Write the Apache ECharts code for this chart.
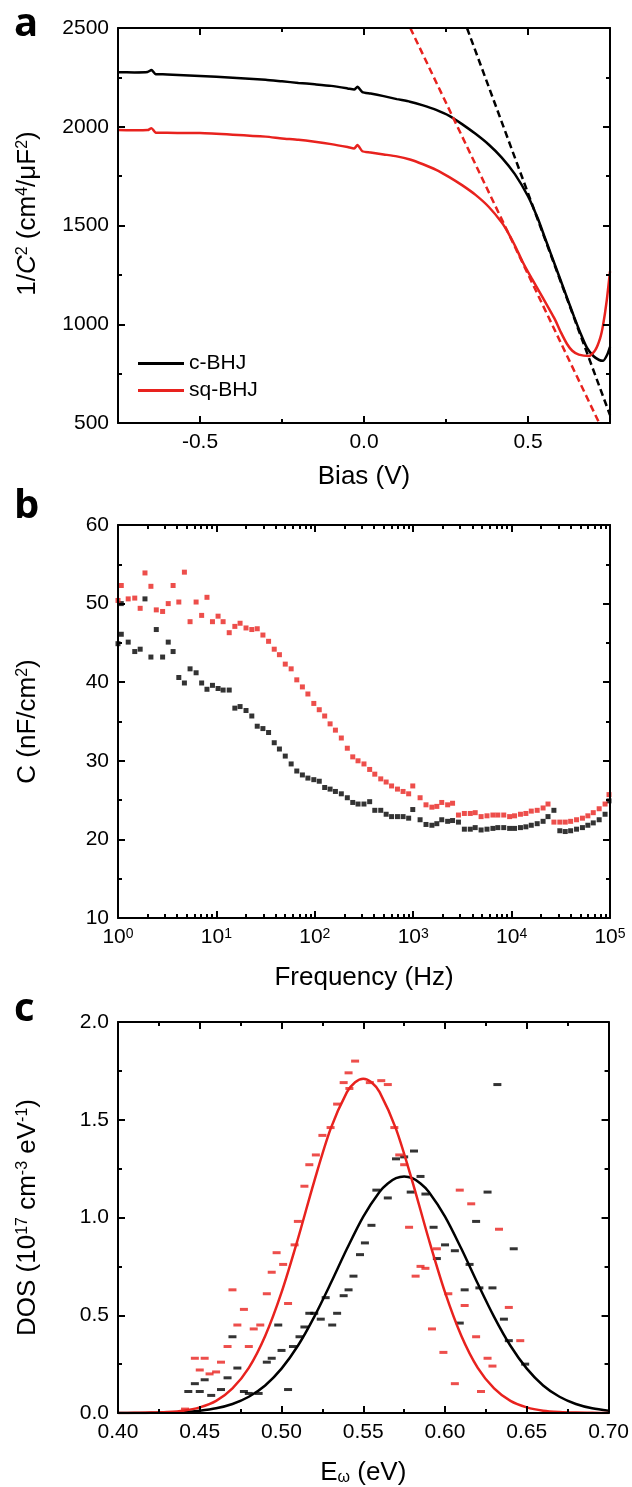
<!DOCTYPE html>
<html>
<head>
<meta charset="utf-8">
<script src="https://cdn.jsdelivr.net/npm/echarts@6/dist/echarts.min.js"></script>
<style>
html, body {margin: 0; padding: 0; background: #fff;}
#main {width: 632px; height: 1487px;}
</style>
</head>
<body>
<div id="main"></div>
<script>
// ---- panel a : Mott-Schottky 1/C^2 vs bias ----
var biasC = [-0.75, -0.70, -0.66, -0.648, -0.635, -0.60, -0.50, -0.40, -0.30, -0.25, -0.20, -0.15, -0.10, -0.05, -0.03, -0.02, -0.005,
    0.02, 0.06, 0.10, 0.14, 0.18, 0.22, 0.26, 0.30, 0.34, 0.38, 0.42, 0.46, 0.50, 0.53, 0.55, 0.57, 0.60, 0.62, 0.64, 0.66, 0.68,
    0.70, 0.717, 0.729, 0.741, 0.75];
var invC2C = [2276, 2275, 2277, 2287, 2266, 2265, 2257, 2248, 2238, 2230, 2222, 2215, 2207, 2194, 2188, 2202, 2175,
    2168, 2155, 2140, 2127, 2108, 2085, 2055, 2012, 1964, 1910, 1844, 1760, 1648, 1535, 1445, 1355, 1220, 1130, 1040, 955, 880,
    838, 819, 815, 844, 886];
var biasSq = [-0.75, -0.70, -0.66, -0.648, -0.635, -0.60, -0.50, -0.40, -0.30, -0.25, -0.20, -0.15, -0.10, -0.05, -0.03, -0.02, -0.005,
    0.02, 0.06, 0.10, 0.14, 0.18, 0.22, 0.26, 0.30, 0.34, 0.38, 0.42, 0.44, 0.46, 0.483, 0.51, 0.545, 0.582, 0.60, 0.619, 0.635,
    0.655, 0.686, 0.705, 0.72, 0.729, 0.74, 0.75];
var invC2Sq = [1983, 1982, 1983, 1993, 1970, 1969, 1968, 1960, 1950, 1941, 1934, 1924, 1912, 1897, 1890, 1907, 1876,
    1870, 1860, 1850, 1834, 1810, 1782, 1745, 1703, 1655, 1595, 1515, 1462, 1399, 1318, 1236, 1135, 1025, 960, 900, 866,
    846, 839, 869, 930, 997, 1120, 1268];
// linear fits (dashed)
var fitBiasC = [0.314, 0.75];
var fitC = [2500, 540];
var fitBiasSq = [0.141, 0.717];
var fitSq = [2500, 500];

// ---- panel b : C vs frequency ----
var freqHz = [1, 1.08, 1.27, 1.48, 1.68, 1.88, 2.16, 2.45, 2.84, 3.24,
    3.63, 4.15, 4.73, 5.40, 6.22, 7.08, 8.02, 9.12, 10.4, 11.7,
    13.5, 15.4, 17.4, 20.0, 22.9, 26.0, 29.7, 33.9, 38.7, 43.7,
    50.1, 57.5, 65.6, 74.8, 85.1, 97.7, 111, 126, 143, 162,
    186, 214, 243, 275, 316, 361, 407, 468, 531, 603,
    692, 789, 899, 990, 1175, 1349, 1549, 1738, 1950, 2239,
    2512, 2884, 3311, 3802, 4266, 4898, 5623, 6457, 7244, 8318,
    9550, 10715, 12303, 13964, 15849, 18197, 20893, 23442, 26915, 30903,
    35075, 39811, 45709, 52481, 59566, 67608, 77625, 89125, 97724];
var capSq = [50.4, 52.3, 50.6, 50.7, 49.4, 53.9, 52.2, 49.2, 49.0, 50.0,
    52.3, 50.2, 54.0, 47.7, 50.2, 48.5, 50.8, 47.7, 48.4, 47.7,
    46.3, 47.1, 47.5, 46.9, 46.7, 46.8, 46.0, 45.2, 44.2, 43.5,
    42.3, 41.7, 40.3, 39.4, 38.5, 37.3, 36.5, 35.7, 34.7, 33.9,
    32.9, 31.6, 30.5, 30.0, 29.6, 28.9, 28.3, 27.7, 27.3, 26.8,
    26.4, 26.1, 25.8, 26.8, 25.3, 24.4, 24.1, 24.2, 24.7, 24.4,
    24.6, 23.1, 23.3, 23.3, 23.4, 22.9, 23.0, 23.1, 23.1, 23.1,
    22.9, 23.0, 23.2, 23.3, 23.6, 23.7, 24.0, 24.5, 22.2, 22.2,
    22.2, 22.3, 22.5, 22.7, 23.0, 23.4, 23.9, 24.5, 25.7];
var capC = [44.9, 46.1, 45.1, 43.9, 44.2, 50.6, 43.2, 46.7, 43.2, 45.1,
    43.9, 40.6, 39.9, 41.7, 41.2, 39.9, 39.1, 39.6, 39.2, 39.0,
    39.0, 36.7, 36.9, 36.4, 35.7, 34.4, 34.1, 33.6, 32.3, 31.5,
    30.6, 29.6, 28.7, 28.2, 27.8, 27.6, 27.4, 26.6, 26.4, 26.1,
    25.8, 25.3, 24.7, 24.5, 24.5, 24.8, 23.7, 23.7, 23.2, 22.9,
    22.9, 22.9, 22.7, 23.8, 22.5, 21.9, 21.8, 22.0, 22.5, 22.3,
    22.4, 22.2, 21.3, 21.3, 21.5, 21.2, 21.3, 21.4, 21.5, 21.5,
    21.4, 21.4, 21.5, 21.6, 21.8, 22.0, 22.3, 22.9, 23.7, 21.1,
    21.0, 21.1, 21.3, 21.5, 21.8, 22.1, 22.5, 23.2, 24.9];
var capCExtraHz = [1.08];
var capCExtra = [50.0];

// ---- panel c : DOS ----
var eFitSq = [0.40, 0.41, 0.42, 0.43, 0.44, 0.45, 0.46, 0.47, 0.48, 0.49, 0.50, 0.51, 0.52, 0.53, 0.54, 0.545, 0.55,
    0.555, 0.56, 0.57, 0.58, 0.59, 0.60, 0.61, 0.62, 0.63, 0.64, 0.65, 0.66, 0.67, 0.68, 0.69, 0.70];
var dosFitSq = [0.000, 0.001, 0.002, 0.005, 0.012, 0.029, 0.062, 0.126, 0.231, 0.394, 0.617, 0.890, 1.185, 1.453, 1.641, 1.692, 1.710,
    1.692, 1.641, 1.453, 1.185, 0.890, 0.617, 0.394, 0.231, 0.126, 0.062, 0.029, 0.012, 0.005, 0.002, 0.001, 0.000];
var eFitC = [0.40, 0.41, 0.42, 0.43, 0.44, 0.45, 0.46, 0.47, 0.48, 0.49, 0.50, 0.51, 0.52, 0.53, 0.54, 0.55, 0.56,
    0.565, 0.57, 0.575, 0.58, 0.585, 0.59, 0.60, 0.61, 0.62, 0.63, 0.64, 0.65, 0.66, 0.67, 0.68, 0.69, 0.70];
var dosFitC = [0.000, 0.000, 0.001, 0.002, 0.005, 0.012, 0.024, 0.046, 0.083, 0.141, 0.227, 0.344, 0.492, 0.662, 0.840, 1.005, 1.132,
    1.174, 1.201, 1.210, 1.201, 1.174, 1.132, 1.005, 0.840, 0.662, 0.492, 0.344, 0.227, 0.141, 0.083, 0.046, 0.024, 0.012];
var dotESq = [0.545, 0.541, 0.538, 0.5415, 0.554, 0.561, 0.565, 0.534, 0.530, 0.525, 0.521, 0.517, 0.514, 0.510,
    0.569, 0.572, 0.575, 0.578, 0.609, 0.616, 0.633, 0.508, 0.497, 0.501, 0.494, 0.470, 0.491, 0.504, 0.477,
    0.473, 0.487, 0.483, 0.467, 0.480, 0.447, 0.453, 0.463, 0.450, 0.456, 0.460, 0.441, 0.595, 0.585, 0.588,
    0.582, 0.602, 0.612, 0.592, 0.619, 0.599, 0.626, 0.629, 0.606, 0.622, 0.639, 0.646];
var dotDosSq = [1.80, 1.74, 1.69, 1.66, 1.69, 1.70, 1.68, 1.58, 1.46, 1.42, 1.32, 1.27, 1.16, 0.98,
    1.46, 1.32, 1.27, 0.95, 1.14, 1.07, 0.94, 0.86, 0.82, 0.76, 0.72, 0.63, 0.61, 0.56, 0.53,
    0.45, 0.45, 0.43, 0.34, 0.34, 0.28, 0.28, 0.26, 0.22, 0.20, 0.21, 0.02, 0.84, 0.75, 0.74,
    0.70, 0.61, 0.55, 0.43, 0.39, 0.31, 0.28, 0.24, 0.15, 0.11, 0.54, 0.37];
var dotEC = [0.632, 0.581, 0.570, 0.575, 0.585, 0.558, 0.565, 0.579, 0.588, 0.626, 0.619, 0.555, 0.593,
    0.551, 0.548, 0.544, 0.541, 0.538, 0.527, 0.520, 0.517, 0.524, 0.534, 0.531, 0.514, 0.511, 0.498, 0.507,
    0.500, 0.494, 0.491, 0.470, 0.473, 0.467, 0.463, 0.477, 0.480, 0.486, 0.504, 0.453, 0.447, 0.450, 0.443,
    0.457, 0.600, 0.606, 0.595, 0.615, 0.612, 0.621, 0.629, 0.642, 0.609, 0.636, 0.639, 0.649];
var dotDosC = [1.68, 1.34, 1.30, 1.31, 1.21, 1.14, 1.10, 1.13, 1.12, 1.13, 0.98, 0.96, 0.95,
    0.87, 0.81, 0.70, 0.63, 0.60, 0.59, 0.51, 0.51, 0.48, 0.51, 0.45, 0.44, 0.39, 0.45, 0.34,
    0.32, 0.28, 0.26, 0.39, 0.23, 0.18, 0.12, 0.11, 0.10, 0.10, 0.12, 0.17, 0.15, 0.11, 0.11,
    0.09, 0.86, 0.83, 0.79, 0.76, 0.63, 0.64, 0.64, 0.84, 0.46, 0.48, 0.37, 0.25];

var RED = '#e8221e';
var FONT = '"Liberation Sans", Arial, sans-serif';

function zip(xs, ys) {
    var out = [];
    for (var i = 0; i < xs.length; i++) out.push([xs[i], ys[i]]);
    return out;
}

var richText = {
    n: {fontSize: 26, fontFamily: FONT, color: '#000'},
    i: {fontSize: 26, fontFamily: FONT, fontStyle: 'italic', color: '#000'},
    s: {fontSize: 16, fontFamily: FONT, color: '#000', verticalAlign: 'top'},
    b: {fontSize: 16, fontFamily: FONT, color: '#000', verticalAlign: 'bottom'}
};
var tickRich = {
    t: {fontSize: 21, fontFamily: FONT, color: '#000'},
    e: {fontSize: 14, fontFamily: FONT, color: '#000', verticalAlign: 'top'}
};

// one axis of a framed box; labels only on the primary (left / bottom) side
function frameAxis(grid, pos, scale, opt) {
    opt = opt || {};
    var ax = {
        gridIndex: grid,
        position: pos,
        type: scale.type || 'value',
        min: scale.min,
        max: scale.max,
        axisLine: {show: !opt.minorOnly, onZero: false, lineStyle: {color: '#000', width: 2}},
        axisTick: {show: true, inside: true, length: opt.minorOnly ? 4 : 7, lineStyle: {color: '#000', width: 2}},
        axisLabel: {show: false},
        splitLine: {show: false},
        minorSplitLine: {show: false},
        z: opt.minorOnly ? 5 : 6
    };
    if (scale.interval) ax.interval = scale.interval;
    if (scale.logBase) ax.logBase = scale.logBase;
    if (scale.minor) ax.minorTick = {show: true, splitNumber: scale.minor, length: 4, lineStyle: {color: '#000', width: 2}};
    var ticks = opt.minorOnly ? scale.minorValues : scale.tickValues;
    if (ticks) ax.axisTick.customValues = ticks;
    if (opt.label) {
        ax.axisLabel = {show: true, fontSize: 21, fontFamily: FONT, color: '#000', margin: 9,
            formatter: scale.fmt, rich: tickRich};
        if (scale.tickValues) ax.axisLabel.customValues = scale.tickValues;
        ax.name = opt.name;
        ax.nameLocation = 'middle';
        ax.nameGap = opt.gap;
        ax.nameRotate = opt.rotate || 0;
        ax.nameTextStyle = {fontSize: 26, fontFamily: FONT, color: '#000', rich: richText};
        if (opt.namePad) ax.nameTextStyle.padding = opt.namePad;
    }
    return ax;
}

var scaleBias = {min: -0.75, max: 0.75, interval: 0.25, tickValues: [-0.5, 0, 0.5], minorValues: [-0.25, 0.25],
    fmt: function (v) { return v.toFixed(1); }};
var scaleInvC2 = {min: 500, max: 2500, interval: 500, minor: 2, fmt: function (v) { return String(v); }};
var logMinor = [];
for (var dec = 1; dec < 100000; dec *= 10) {
    for (var m = 2; m <= 9; m++) logMinor.push(m * dec);
}
var scaleFreq = {type: 'log', logBase: 10, min: 1, max: 100000, minorValues: logMinor,
    fmt: function (v) { return '{t|10}{e|' + Math.round(Math.log10(v)) + '}'; }};
var scaleCap = {min: 10, max: 60, interval: 10, minor: 2, fmt: function (v) { return String(v); }};
var scaleE = {min: 0.40, max: 0.70, interval: 0.05, minor: 2, fmt: function (v) { return v.toFixed(2); }};
var scaleDos = {min: 0, max: 2, interval: 0.5, minor: 2, fmt: function (v) { return v.toFixed(1); }};

var xAxes = [
    frameAxis(0, 'bottom', scaleBias, {label: true, name: 'Bias (V)', gap: 41}),
    frameAxis(0, 'top', scaleBias),
    frameAxis(0, 'bottom', scaleBias, {minorOnly: true}),
    frameAxis(0, 'top', scaleBias, {minorOnly: true}),
    frameAxis(1, 'bottom', scaleFreq, {label: true, name: 'Frequency (Hz)', gap: 47}),
    frameAxis(1, 'top', scaleFreq),
    frameAxis(1, 'bottom', scaleFreq, {minorOnly: true}),
    frameAxis(1, 'top', scaleFreq, {minorOnly: true}),
    frameAxis(2, 'bottom', scaleE, {label: true, name: '{n|E}{b|ω}{n| (eV)}', gap: 47}),
    frameAxis(2, 'top', scaleE)
];
var yAxes = [
    frameAxis(0, 'left', scaleInvC2, {label: true, name: '{n|1/}{i|C}{s|2}{n| (cm}{s|4}{n|/μF}{s|2}{n|)}', gap: 77, rotate: 90,
        namePad: [0, 0, 0, 24]}),
    frameAxis(0, 'right', scaleInvC2),
    frameAxis(1, 'left', scaleCap, {label: true, name: '{n|C (nF/cm}{s|2}{n|)}', gap: 77, rotate: 90}),
    frameAxis(1, 'right', scaleCap),
    frameAxis(2, 'left', scaleDos, {label: true, name: '{n|DOS (10}{s|17}{n| cm}{s|-3}{n| eV}{s|-1}{n|)}', gap: 77, rotate: 90}),
    frameAxis(2, 'right', scaleDos)
];

function curve(name, xi, yi, data, color, dashed, smooth) {
    return {
        name: name, type: 'line', xAxisIndex: xi, yAxisIndex: yi, data: data,
        showSymbol: false, symbol: 'none', smooth: smooth || false, animation: false,
        lineStyle: {color: color, width: 2.5, type: dashed ? [7, 4] : 'solid'},
        itemStyle: {color: color}
    };
}
function dots(name, xi, yi, data, color, size) {
    return {
        name: name, type: 'scatter', xAxisIndex: xi, yAxisIndex: yi, data: data,
        symbol: 'rect', symbolSize: size, animation: false,
        itemStyle: {color: color}
    };
}

var option = {
    backgroundColor: '#fff',
    animation: false,
    grid: [
        {left: 118, top: 28, width: 492, height: 395},
        {left: 118, top: 525, width: 492, height: 393},
        {left: 118, top: 1022, width: 492, height: 391}
    ],
    xAxis: xAxes,
    yAxis: yAxes,
    legend: {
        data: ['c-BHJ', 'sq-BHJ'],
        orient: 'vertical', left: 138, top: 353, padding: 0,
        icon: 'rect', itemWidth: 46, itemHeight: 3, itemGap: 6,
        textStyle: {fontSize: 21, fontFamily: FONT, color: '#000'}
    },
    graphic: [
        {type: 'text', left: 14, top: 5, style: {text: 'a', font: 'bold 40px "Open Sans"', fill: '#000'}},
        {type: 'text', left: 14, top: 487, style: {text: 'b', font: 'bold 40px "Open Sans"', fill: '#000'}},
        {type: 'text', left: 14, top: 990, style: {text: 'c', font: 'bold 40px "Open Sans"', fill: '#000'}}
    ],
    series: [
        curve('c-BHJ', 0, 0, zip(biasC, invC2C), '#000', false, 0.2),
        curve('sq-BHJ', 0, 0, zip(biasSq, invC2Sq), RED, false, 0.2),
        curve('c-BHJ fit', 0, 0, zip(fitBiasC, fitC), '#000', true),
        curve('sq-BHJ fit', 0, 0, zip(fitBiasSq, fitSq), RED, true),
        dots('c-BHJ C-f', 4, 2, zip(freqHz, capC).concat(zip(capCExtraHz, capCExtra)), '#000', 5),
        dots('sq-BHJ C-f', 4, 2, zip(freqHz, capSq), RED, 5),
        dots('c-BHJ DOS', 8, 4, zip(dotEC, dotDosC), '#000', [8, 3]),
        dots('sq-BHJ DOS', 8, 4, zip(dotESq, dotDosSq), RED, [8, 3]),
        curve('c-BHJ Gauss', 8, 4, zip(eFitC, dosFitC), '#000', false, 0.3),
        curve('sq-BHJ Gauss', 8, 4, zip(eFitSq, dosFitSq), RED, false, 0.3)
    ]
};

var myChart = echarts.init(document.getElementById('main'));
myChart.setOption(option);
</script>
</body>
</html>
